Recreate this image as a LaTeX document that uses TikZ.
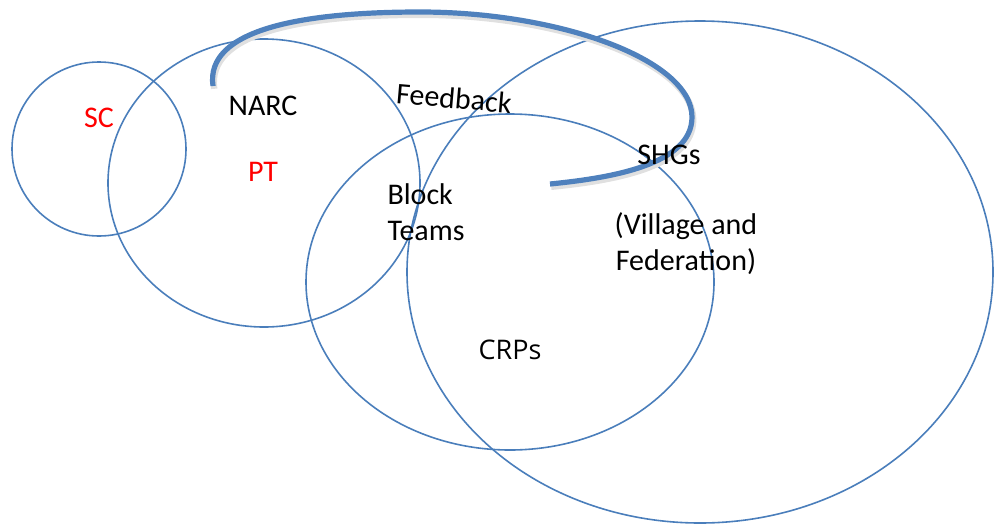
\documentclass[tikz,border=0pt]{standalone}
\usepackage{fontspec}
\setmainfont{Carlito}
\newfontfamily\crpsfont{Open Sans}
\usetikzlibrary{positioning}
\definecolor{venn}{HTML}{4A7EBB}
\definecolor{loopblue}{HTML}{4F81BD}

\begin{document}
\begin{tikzpicture}[
  x=0.5pt, y=-0.5pt,
  ring/.style={draw=venn, line width=0.8pt},
  loopline/.style={
    draw=loopblue,
    line width=2.6pt,
    preaction={draw=black!12, line width=3.2pt,
      transform canvas={shift={(0.6pt,-1.4pt)}}}},
  lbl/.style={font=\fontsize{15}{18}\selectfont, inner sep=0pt},
  ]
  \useasboundingbox (0,0) rectangle (995,525);

  % the four circles
  \draw[ring] (99,149) ellipse [x radius=87, y radius=87];
  \draw[ring] (264,183) ellipse [x radius=156, y radius=144];
  \draw[ring] (510,282) ellipse [x radius=204, y radius=168];
  \draw[ring] (700,272) ellipse [x radius=293, y radius=251];

  % feedback loop
  \coordinate (fbstart) at (213,86);
  \coordinate (fbend) at (550,184);
  \draw[loopline] (fbstart)
    .. controls (205,30) and (300,12) .. (420,12)
    .. controls (560,12) and (692,60) .. (692,117)
    .. controls (692,165) and (610,178) .. (fbend);

  % labels
  \node[lbl, text=red] (sc) at (99,118) {SC};
  \node[lbl] (narc) at (263,106) {NARC};
  \node[lbl, text=red, below=23pt of narc] (pt) {PT};
  \node[lbl, align=left] (block) at (426,212) {Block\\Teams};
  \node[lbl] (shgs) at (669,155) {SHGs};
  \node[lbl, align=center] (village) at (686,244) {(Village and\\Federation)};
  \node[lbl, font=\crpsfont\fontsize{13.5}{16}\selectfont] (crps) at (510,350) {CRPs};
  \node[lbl, rotate=-5] (fb) at (454,98) {Feedback};
\end{tikzpicture}
\end{document}
